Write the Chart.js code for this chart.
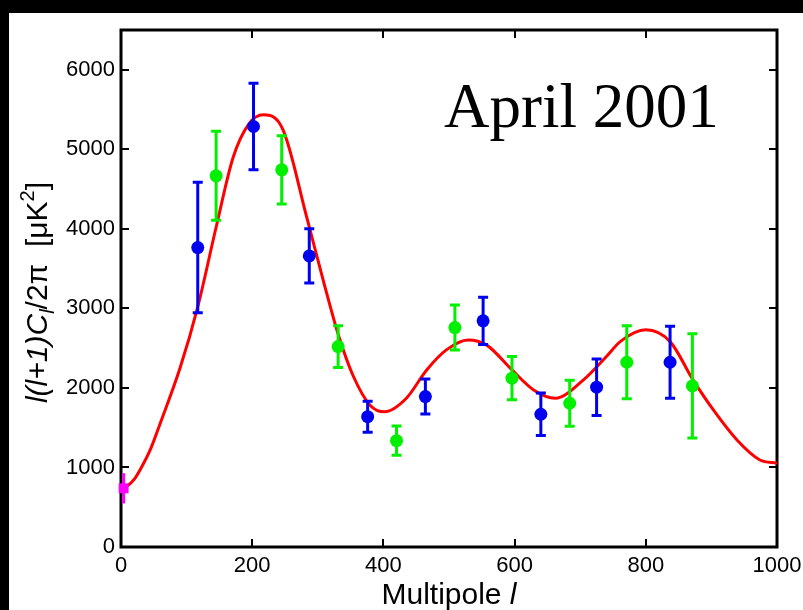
<!DOCTYPE html>
<html>
<head>
<meta charset="utf-8">
<script src="https://cdn.jsdelivr.net/npm/chart.js@4/dist/chart.umd.min.js"></script>
<style>
  html, body { margin: 0; padding: 0; background: #fff; }
  canvas { display: block; }
</style>
</head>
<body>
<canvas id="c" width="803" height="610"></canvas>
<script>
// Multipole values and band powers (uK^2), two experiment sets plus the low-l point
const blueL   = [117, 202, 287, 376, 464, 552, 640, 725, 837];
const blueV   = [3765, 5287, 3660, 1639, 1891, 2843, 1669, 2009, 2323];
const blueErr = [820, 545, 342, 195, 220, 296, 268, 356, 453];

const greenL   = [145, 245, 331, 420, 509, 596, 684, 771, 871];
const greenV   = [4667, 4742, 2520, 1337, 2759, 2122, 1807, 2323, 2025];
const greenErr = [560, 430, 262, 185, 283, 272, 288, 459, 656];

const lowL   = [4];
const lowV   = [738];
const lowErr = [190];

// Model power spectrum sampled at these multipoles
const modelL = [2, 10, 20, 29, 45, 60, 90, 117, 145, 171, 195, 217, 247, 283, 310, 332, 354, 380, 402, 435, 466, 496, 529, 557, 596, 629, 662, 705, 740, 761, 800, 837, 872, 903, 939, 974, 1000];
const modelV = [740, 770, 850, 969, 1230, 1560, 2250, 3020, 4020, 4900, 5320, 5434, 5245, 4150, 3300, 2650, 2150, 1780, 1700, 1870, 2226, 2478, 2604, 2541, 2226, 1975, 1870, 2101, 2394, 2582, 2730, 2582, 2101, 1723, 1346, 1094, 1053];

const xTicks = [0, 200, 400, 600, 800, 1000];
const yTicks = [0, 1000, 2000, 3000, 4000, 5000, 6000];

const BLUE = '#0000f0', GREEN = '#00f000', RED = '#ff0000', MAGENTA = '#ff00ff';
const SANS = '"Liberation Sans", Arial, Helvetica, sans-serif';

const pts = (xs, ys) => xs.map((x, i) => ({ x: x, y: ys[i] }));

const backdrop = {
  id: 'backdrop',
  beforeDraw(chart) {
    const ctx = chart.ctx;
    ctx.save();
    ctx.fillStyle = '#ffffff';
    ctx.fillRect(0, 0, chart.width, chart.height);
    ctx.fillStyle = '#000000';
    ctx.fillRect(0, 0, chart.width, 13);
    ctx.fillRect(0, 0, 9, chart.height);
    ctx.restore();
  }
};

// Box frame with inward ticks on all four sides, drawn beneath the data
const frame = {
  id: 'frame',
  beforeDatasetsDraw(chart) {
    const ctx = chart.ctx, a = chart.chartArea, xs = chart.scales.x, ys = chart.scales.y;
    ctx.save();
    ctx.strokeStyle = '#000';
    ctx.lineWidth = 2;
    const tl = 8;
    ctx.beginPath();
    xTicks.forEach(v => {
      const p = Math.round(xs.getPixelForValue(v));
      ctx.moveTo(p, a.bottom); ctx.lineTo(p, a.bottom - tl);
      ctx.moveTo(p, a.top); ctx.lineTo(p, a.top + tl);
    });
    yTicks.forEach(v => {
      const p = Math.round(ys.getPixelForValue(v));
      ctx.moveTo(a.left, p); ctx.lineTo(a.left + tl, p);
      ctx.moveTo(a.right, p); ctx.lineTo(a.right - tl, p);
    });
    ctx.stroke();
    ctx.lineWidth = 3;
    ctx.strokeRect(a.left, a.top, a.right - a.left, a.bottom - a.top);
    ctx.restore();
  }
};

// Vertical error bars, drawn right after the model curve so the dots sit on top
const errorBars = {
  id: 'errorBars',
  afterDatasetDraw(chart, args) {
    if (args.index !== 0) return;
    const ctx = chart.ctx, xs = chart.scales.x, ys = chart.scales.y;
    const sets = [
      { l: blueL, v: blueV, e: blueErr, c: BLUE, cap: 5 },
      { l: greenL, v: greenV, e: greenErr, c: GREEN, cap: 5 },
      { l: lowL, v: lowV, e: lowErr, c: MAGENTA, cap: 0 }
    ];
    ctx.save();
    ctx.lineWidth = 3;
    sets.forEach(s => {
      ctx.strokeStyle = s.c;
      s.l.forEach((l, i) => {
        const px = xs.getPixelForValue(l);
        const top = ys.getPixelForValue(s.v[i] + s.e[i]);
        const bot = ys.getPixelForValue(s.v[i] - s.e[i]);
        ctx.beginPath();
        ctx.moveTo(px, top); ctx.lineTo(px, bot);
        if (s.cap) {
          ctx.moveTo(px - s.cap, top); ctx.lineTo(px + s.cap, top);
          ctx.moveTo(px - s.cap, bot); ctx.lineTo(px + s.cap, bot);
        }
        ctx.stroke();
      });
    });
    ctx.restore();
  }
};

// Axis titles and the date annotation
const titles = {
  id: 'titles',
  afterDraw(chart) {
    const ctx = chart.ctx, a = chart.chartArea;
    ctx.save();
    ctx.fillStyle = '#000';
    ctx.textBaseline = 'alphabetic';
    ctx.textAlign = 'left';

    // x title: "Multipole l"
    const xFont = '30px ' + SANS, xFontI = 'italic 30px ' + SANS;
    ctx.font = xFont;
    const w1 = ctx.measureText('Multipole ').width;
    ctx.font = xFontI;
    const w2 = ctx.measureText('l').width;
    const x0 = (a.left + a.right) / 2 - (w1 + w2) / 2;
    ctx.font = xFont; ctx.fillText('Multipole ', x0, 604);
    ctx.font = xFontI; ctx.fillText('l', x0 + w1, 604);

    // y title: l(l+1)C_l/2π  [μK^2]
    const parts = [
      { t: 'l(l+1)C', f: 'italic 30px ' + SANS, dy: 0 },
      { t: 'l', f: 'italic 20px ' + SANS, dy: 7 },
      { t: '/2π  [μK', f: '30px ' + SANS, dy: 0 },
      { t: '2', f: '20px ' + SANS, dy: -13 },
      { t: ']', f: '30px ' + SANS, dy: 0 }
    ];
    let total = 0;
    parts.forEach(p => { ctx.font = p.f; p.w = ctx.measureText(p.t).width; total += p.w; });
    ctx.translate(47, (a.top + a.bottom) / 2 + 4);
    ctx.rotate(-Math.PI / 2);
    let cx = -total / 2;
    parts.forEach(p => { ctx.font = p.f; ctx.fillText(p.t, cx, p.dy); cx += p.w; });
    ctx.restore();

    ctx.save();
    ctx.fillStyle = '#000';
    ctx.font = '63px "Liberation Serif", "Times New Roman", serif';
    ctx.textAlign = 'left';
    ctx.textBaseline = 'alphabetic';
    ctx.fillText('April 2001', 444, 127);
    ctx.restore();
  }
};

new Chart(document.getElementById('c'), {
  type: 'scatter',
  data: {
    datasets: [
      {
        data: pts(modelL, modelV), showLine: true, borderColor: RED, borderWidth: 3,
        pointRadius: 0, cubicInterpolationMode: 'monotone', order: 3
      },
      { data: pts(blueL, blueV), backgroundColor: BLUE, borderColor: BLUE, pointRadius: 6.5, borderWidth: 0, order: 1 },
      { data: pts(greenL, greenV), backgroundColor: GREEN, borderColor: GREEN, pointRadius: 6.5, borderWidth: 0, order: 1 },
      { data: pts(lowL, lowV), backgroundColor: MAGENTA, borderColor: MAGENTA, pointStyle: 'rect', pointRadius: 7, borderWidth: 0, order: 1, clip: false }
    ]
  },
  options: {
    responsive: false,
    animation: false,
    devicePixelRatio: 1,
    layout: { padding: { left: 0, top: 30, right: 26, bottom: 0 } },
    plugins: { legend: { display: false }, tooltip: { enabled: false } },
    scales: {
      x: {
        type: 'linear', min: 0, max: 1000,
        grid: { display: false, drawTicks: false }, border: { display: false },
        afterBuildTicks: s => { s.ticks = xTicks.map(v => ({ value: v })); },
        afterFit: s => { s.height = 63; s.paddingLeft = 0; s.paddingRight = 0; },
        ticks: {
          color: '#000', padding: 6, font: { family: SANS, size: 22 }, maxRotation: 0, autoSkip: false,
          callback: v => String(v)
        }
      },
      y: {
        type: 'linear', min: 0, max: 6500,
        grid: { display: false, drawTicks: false }, border: { display: false },
        afterBuildTicks: s => { s.ticks = yTicks.map(v => ({ value: v })); },
        afterFit: s => { s.width = 121; s.paddingTop = 0; s.paddingBottom = 0; },
        ticks: { color: '#000', padding: 6, font: { family: SANS, size: 22 }, callback: v => String(v) }
      }
    }
  },
  plugins: [backdrop, frame, errorBars, titles]
});
</script>
</body>
</html>
